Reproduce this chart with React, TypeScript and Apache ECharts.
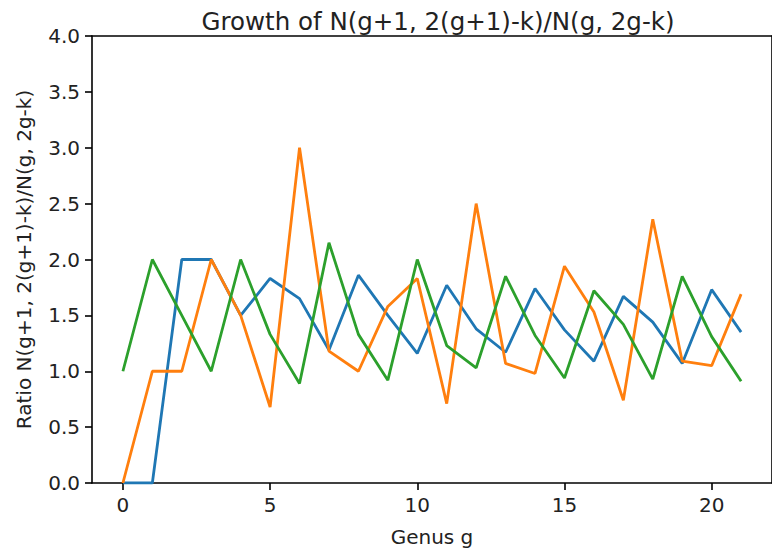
import React, { useEffect, useRef } from "react";
import * as echarts from "echarts";

const genus = [0, 1, 2, 3, 4, 5, 6, 7, 8, 9, 10, 11, 12, 13, 14, 15, 16, 17, 18, 19, 20, 21];
const seriesA = [0, 0, 2.0, 2.0, 1.5, 1.83, 1.65, 1.19, 1.86, 1.5, 1.16, 1.77, 1.38, 1.17, 1.74, 1.37, 1.09, 1.67, 1.44, 1.07, 1.73, 1.35];
const seriesB = [0, 1.0, 1.0, 2.0, 1.5, 0.68, 3.0, 1.18, 1.0, 1.58, 1.83, 0.71, 2.5, 1.07, 0.98, 1.94, 1.53, 0.74, 2.36, 1.09, 1.05, 1.69];
const seriesC = [1.0, 2.0, 1.5, 1.0, 2.0, 1.33, 0.89, 2.15, 1.33, 0.92, 2.0, 1.23, 1.03, 1.85, 1.32, 0.94, 1.72, 1.42, 0.93, 1.85, 1.31, 0.91];
const xTicks = [0, 5, 10, 15, 20];
const colors = ["#1f77b4", "#ff7f0e", "#2ca02c"];

const FONT = "DejaVu Sans";
const TXT = "#222";

export default function App() {
  const ref = useRef<HTMLDivElement>(null);
  useEffect(() => {
    if (!ref.current) return;
    const chart = echarts.init(ref.current, null, { renderer: "svg" });
    const axisLine = { show: true, onZero: false, lineStyle: { color: "#000", width: 1.6 } };
    chart.setOption({
      animation: false,
      backgroundColor: "#fff",
      title: {
        text: "Growth of N(g+1, 2(g+1)-k)/N(g, 2g-k)",
        left: 433,
        textAlign: "center",
        top: 4,
        textStyle: { fontFamily: FONT, fontSize: 24.5, fontWeight: "normal", color: TXT },
      },
      grid: { left: 92, top: 36, width: 685, height: 447, containLabel: false },
      xAxis: [
        {
          type: "value",
          min: -1.05,
          max: 22.05,
          name: "Genus g",
          nameLocation: "middle",
          nameGap: 44,
          nameTextStyle: { fontFamily: FONT, fontSize: 20, color: TXT },
          axisLine,
          axisTick: { show: true, length: 7, lineStyle: { color: "#000", width: 1.6 }, customValues: xTicks },
          axisLabel: { fontFamily: FONT, fontSize: 20, color: TXT, margin: 12, customValues: xTicks, formatter: (v: number) => String(v) },
          splitLine: { show: false },
        },
        {
          type: "value",
          position: "top",
          min: -1.05,
          max: 22.05,
          axisLine,
          axisTick: { show: false },
          axisLabel: { show: false },
          splitLine: { show: false },
        },
      ],
      yAxis: [
        {
          type: "value",
          min: 0,
          max: 4,
          interval: 0.5,
          name: "Ratio N(g+1, 2(g+1)-k)/N(g, 2g-k)",
          nameLocation: "middle",
          nameGap: 58,
          nameRotate: 90,
          nameTextStyle: { fontFamily: FONT, fontSize: 20, color: TXT },
          axisLine,
          axisTick: { show: true, length: 7, lineStyle: { color: "#000", width: 1.6 } },
          axisLabel: { fontFamily: FONT, fontSize: 20, color: TXT, margin: 12, formatter: (v: number) => v.toFixed(1) },
          splitLine: { show: false },
        },
        {
          type: "value",
          position: "right",
          min: 0,
          max: 4,
          axisLine,
          axisTick: { show: false },
          axisLabel: { show: false },
          splitLine: { show: false },
        },
      ],
      series: [seriesA, seriesB, seriesC].map((s, i) => ({
        type: "line",
        data: genus.map((g, j) => [g, s[j]]),
        showSymbol: false,
        symbol: "none",
        lineStyle: { color: colors[i], width: 2.8 },
        itemStyle: { color: colors[i] },
        z: 2 + i,
      })),
    });
    return () => chart.dispose();
  }, []);
  return (
    <div
      ref={ref}
      style={{ position: "fixed", left: 0, top: 0, width: 772, height: 552 }}
    />
  );
}
